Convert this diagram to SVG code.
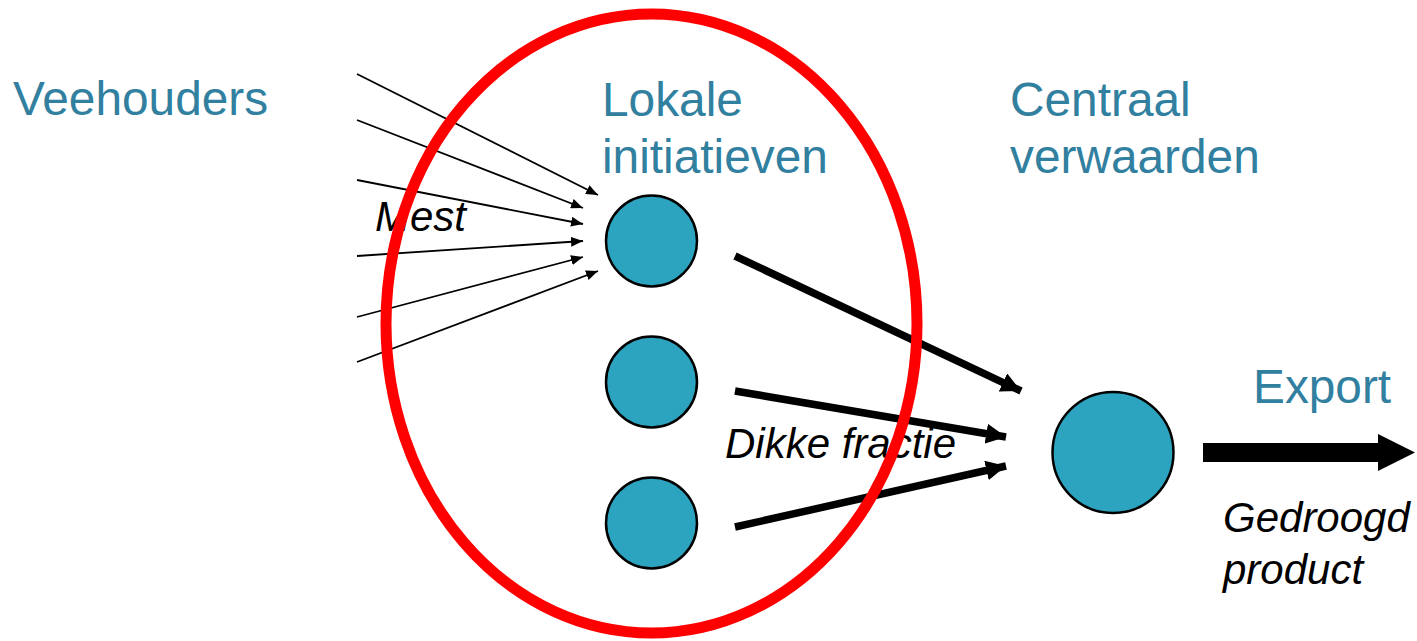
<svg xmlns="http://www.w3.org/2000/svg" width="1417" height="641" viewBox="0 0 1417 641">
<style>
.lbl{font-family:"Liberation Sans",Arial,sans-serif;font-size:47.8px;fill:#31809F}
.it{font-family:"Liberation Sans",Arial,sans-serif;font-size:42px;font-style:italic;fill:#000}
.node{fill:#2CA3BF;stroke:#000;stroke-width:2.5}
.thin{stroke:#000;stroke-width:1.8;fill:none;marker-end:url(#ah)}
.thick{stroke:#000;stroke-width:7.5;fill:none;marker-end:url(#ahb)}
</style>
<defs>
<marker id="ah" viewBox="0 0 12 10" refX="12" refY="5" markerWidth="12" markerHeight="10" markerUnits="userSpaceOnUse" orient="auto">
<path d="M0,0 L12,5 L0,10 Z" fill="#000"/>
</marker>
<marker id="ahb" viewBox="0 0 20 20" refX="20" refY="10" markerWidth="20" markerHeight="20" markerUnits="userSpaceOnUse" orient="auto">
<path d="M0,0 L20,10 L0,20 Z" fill="#000"/>
</marker>
</defs>
<rect width="1417" height="641" fill="#fff"/>
<g id="labels">
<text class="lbl" x="13" y="115">Veehouders</text>
<text class="lbl" x="602" y="116">Lokale</text>
<text class="lbl" x="602" y="172.5">initiatieven</text>
<text class="lbl" x="1010" y="116">Centraal</text>
<text class="lbl" x="1010" y="172.5">verwaarden</text>
<text class="lbl" x="1253" y="403">Export</text>
</g>
<g id="connectors">
<line class="thin" x1="357" y1="74" x2="598" y2="195"/>
<line class="thin" x1="357" y1="120" x2="583" y2="208"/>
<line class="thin" x1="357" y1="180" x2="583" y2="224"/>
<line class="thin" x1="357" y1="256" x2="583" y2="241"/>
<line class="thin" x1="357" y1="317" x2="583" y2="257"/>
<line class="thin" x1="357" y1="362" x2="598" y2="271"/>
<line class="thick" x1="735" y1="256" x2="1021" y2="391"/>
<line class="thick" x1="735" y1="391" x2="1006" y2="437"/>
<line class="thick" x1="735" y1="527" x2="1006" y2="466"/>
<path id="export-arrow" d="M1203,443 L1378,443 L1378,434 L1415,452.5 L1378,471 L1378,462 L1203,462 Z" fill="#000"/>
</g>
<g id="edge-labels">
<text class="it" x="375" y="231">Mest</text>
<text class="it" x="725" y="458">Dikke fractie</text>
<text class="it" x="1223" y="532">Gedroogd</text>
<text class="it" x="1223" y="584">product</text>
</g>
<g id="node-local-1"><circle class="node" cx="651.5" cy="241" r="45.5"/></g>
<g id="node-local-2"><circle class="node" cx="651.5" cy="382" r="45.5"/></g>
<g id="node-local-3"><circle class="node" cx="651.5" cy="523" r="45.5"/></g>
<g id="node-central"><circle class="node" cx="1113" cy="452.5" r="60.5"/></g>
<g id="local-boundary"><ellipse cx="651.5" cy="323.5" rx="265.5" ry="309.5" fill="none" stroke="#FF0000" stroke-width="11"/></g>
</svg>
